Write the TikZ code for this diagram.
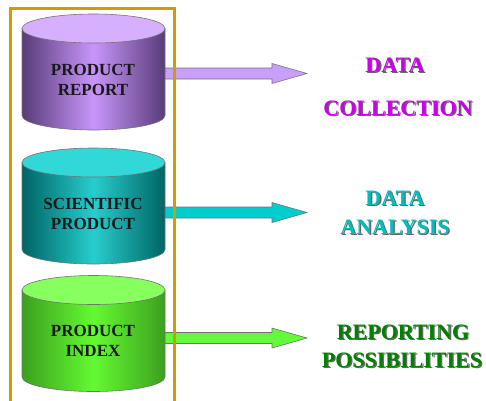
\documentclass[tikz,border=0pt]{standalone}
\usepackage{fontspec}
\setmainfont{Liberation Serif}
\usetikzlibrary{calc}

\definecolor{frameGold}{RGB}{210,155,5}
\definecolor{prpEdge}{RGB}{88,60,120}
\definecolor{prpMid}{RGB}{200,150,250}
\definecolor{prpTop}{RGB}{215,175,255}
\definecolor{prpArrow}{RGB}{200,160,250}
\definecolor{cynEdge}{RGB}{0,100,100}
\definecolor{cynMid}{RGB}{40,205,205}
\definecolor{cynTop}{RGB}{50,215,215}
\definecolor{cynArrow}{RGB}{0,205,205}
\definecolor{grnEdge}{RGB}{60,160,30}
\definecolor{grnMid}{RGB}{100,250,50}
\definecolor{grnTop}{RGB}{135,255,95}
\definecolor{grnArrow}{RGB}{100,250,60}
\definecolor{lblMag}{RGB}{205,0,235}
\definecolor{lblTeal}{RGB}{0,190,190}
\definecolor{lblGreen}{RGB}{0,130,0}

\begin{document}
\begin{tikzpicture}[x=1pt,y=-1pt,
  dbline/.style={draw=black!55,line width=0.6pt},
  arrowbox/.style={draw=black!55,line width=0.6pt},
  dbtext/.style={font=\fontsize{17}{20}\selectfont\bfseries,align=center,text=black!90},
  lbl/.style={font=\fontsize{22}{24}\selectfont\bfseries,inner sep=0pt},
  shade/.style={lbl,text=black!60}]
\useasboundingbox (0,0) rectangle (486,400);

% block arrows (behind the cylinders)
\foreach \ya/\arr/\nm in {73.5/prpArrow/rep,212.5/cynArrow/sci,338/grnArrow/idx} {
	\coordinate (a\nm) at (160,\ya);
	\draw[arrowbox,fill=\arr] (a\nm) ++(0,-5.5) -- ++(112,0) -- ++(0,-4.5) -- ++(35,10)
		-- ++(-35,10) -- ++(0,-4.5) -- ++(-112,0) -- cycle;
	}

% cylinders
\foreach \yt/\edge/\mid/\top/\nm/\txt in {
	28.5/prpEdge/prpMid/prpTop/rep/{PRODUCT\\REPORT},
	162.5/cynEdge/cynMid/cynTop/sci/{SCIENTIFIC\\PRODUCT},
	290/grnEdge/grnMid/grnTop/idx/{PRODUCT\\INDEX}} {
	\draw[dbline,left color=\edge,right color=\edge,middle color=\mid]
		(22,\yt) -- (22,\yt+87) arc[start angle=180,end angle=0,x radius=71.5,y radius=14.5]
		-- (165,\yt) -- cycle;
	\draw[dbline,fill=\top] (93.5,\yt) ellipse [x radius=71.5,y radius=14.5];
	\node[dbtext] (db\nm) at (93,\yt+51) {\txt};
	}

% frame
\draw[frameGold,line width=2.8pt] (10.5,402) -- (10.5,8.7) -- (174.7,8.7) -- (174.7,402);

% labels
\foreach \x/\y/\c/\t/\nm in {395/65/lblMag/DATA/la,398/108/lblMag/COLLECTION/lb,
	395/198/lblTeal/DATA/lc,395/227/lblTeal/ANALYSIS/ld,
	403/332/lblGreen/REPORTING/le,402/360/lblGreen/POSSIBILITIES/lf} {
	\node[shade] (s\nm) at (\x+1.3,\y+1.3) {\t};
	\node[lbl,text=\c] (t\nm) at (\x,\y) {\t};
	}

\end{tikzpicture}
\end{document}
